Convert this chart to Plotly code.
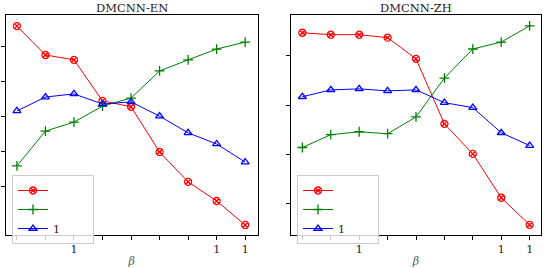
import plotly.graph_objects as go

# categories (x positions, tick labels as rendered in the reference)
x_pos = [0, 1, 2, 3, 4, 5, 6, 7, 8]
x_ticktext = ["", "", "1", "", "", "", "", "1", "1"]

# left panel: DMCNN-EN
en_red = [6.60, 5.77, 5.63, 4.45, 4.28, 2.98, 2.12, 1.57, 0.88]
en_green = [2.58, 3.58, 3.84, 4.30, 4.53, 5.31, 5.63, 5.94, 6.14]
en_blue = [4.16, 4.56, 4.65, 4.36, 4.42, 4.01, 3.53, 3.21, 2.69]
en_yticks = [2, 3, 4, 5, 6]

# right panel: DMCNN-ZH
zh_red = [4.47, 4.43, 4.43, 4.37, 3.94, 2.62, 2.01, 1.12, 0.57]
zh_green = [2.14, 2.40, 2.46, 2.42, 2.76, 3.55, 4.14, 4.28, 4.61]
zh_blue = [3.17, 3.31, 3.33, 3.29, 3.31, 3.05, 2.95, 2.44, 2.18]
zh_yticks = [1, 2, 3, 4]

names = ["", "", "1"]
titles = ["DMCNN-EN", "DMCNN-ZH"]
xlabel = "<i>β</i>"

W, H = 544, 268
FONT = "DejaVu Serif"

styles = [
    dict(color="#ff0000", symbol="circle-x-open", size=7),
    dict(color="#008000", symbol="cross-thin-open", size=7),
    dict(color="#0000ff", symbol="triangle-up-open", size=7),
]

PAD = "\u00a0" * 8  # widens the legend box to match the reference

fig = go.Figure()
panels = [
    ("x", "y", "legend", [en_red, en_green, en_blue]),
    ("x2", "y2", "legend2", [zh_red, zh_green, zh_blue]),
]
for xa, ya, lg, series in panels:
    for name, vals, st in zip(names, series, styles):
        fig.add_trace(go.Scatter(
            x=x_pos, y=vals, name=name + PAD, xaxis=xa, yaxis=ya, legend=lg,
            mode="lines+markers",
            line=dict(color=st["color"], width=1),
            marker=dict(symbol=st["symbol"], size=st["size"], color=st["color"],
                        line=dict(color=st["color"], width=1.3)),
        ))

def px_x(p):
    return p / W

def px_y(p):
    return 1 - p / H

axis_common = dict(
    showline=True, linecolor="black", linewidth=1, mirror=True,
    ticks="outside", ticklen=4, tickcolor="black", tickwidth=1,
    showgrid=False, zeroline=False, automargin=False,
    tickfont=dict(family=FONT, size=11, color="#222"),
)

left_dom = [px_x(5.5), px_x(258)]
right_dom = [px_x(291), px_x(541)]
ydom = [px_y(234.7), px_y(15)]

legend_common = dict(
    xanchor="left", yanchor="top",
    bgcolor="rgba(255,255,255,0.8)", bordercolor="#cccccc", borderwidth=1,
    font=dict(family=FONT, size=11, color="#222"),
    tracegroupgap=0, itemwidth=30,
)

fig.update_layout(
    width=W, height=H,
    margin=dict(l=0, r=0, t=0, b=0, autoexpand=False),
    paper_bgcolor="white", plot_bgcolor="white",
    font=dict(family=FONT, size=12, color="#222"),
    xaxis=dict(domain=left_dom, range=[-0.4, 8.45], tickvals=x_pos, ticktext=x_ticktext,
               anchor="y", title=dict(text=xlabel, standoff=6,
                                      font=dict(family=FONT, size=11, color="#555")),
               **axis_common),
    yaxis=dict(domain=ydom, range=[0.6, 6.92], tickvals=en_yticks,
               ticktext=[""] * len(en_yticks), anchor="x", **axis_common),
    xaxis2=dict(domain=right_dom, range=[-0.4, 8.4], tickvals=x_pos, ticktext=x_ticktext,
                anchor="y2", title=dict(text=xlabel, standoff=6,
                                        font=dict(family=FONT, size=11, color="#555")),
                **axis_common),
    yaxis2=dict(domain=ydom, range=[0.37, 4.83], tickvals=zh_yticks,
                ticktext=[""] * len(zh_yticks), anchor="x2", **axis_common),
    legend=dict(x=px_x(12), y=px_y(175), **legend_common),
    legend2=dict(x=px_x(297), y=px_y(175), **legend_common),
    showlegend=True,
)

for dom, t in zip([left_dom, right_dom], titles):
    fig.add_annotation(text=t, xref="paper", yref="paper", x=(dom[0] + dom[1]) / 2,
                       y=px_y(7.5), xanchor="center", yanchor="middle", showarrow=False,
                       font=dict(family=FONT, size=11.5, color="#222"))

fig.write_html("out.html", config={"displayModeBar": False},
               post_script="document.body.style.margin='0';")
